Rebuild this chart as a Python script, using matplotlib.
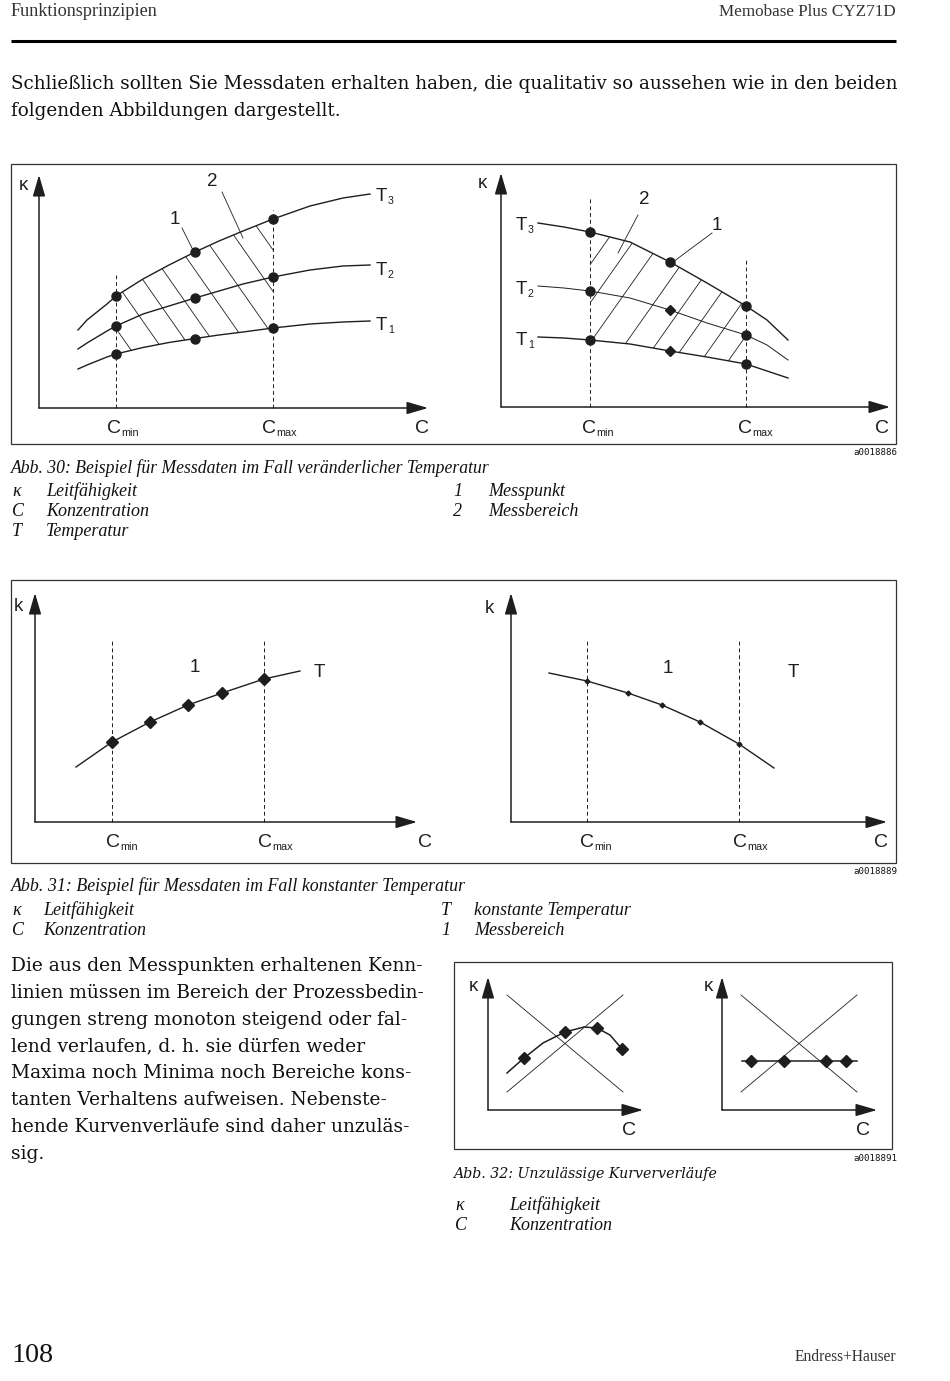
import numpy as np
import matplotlib
matplotlib.use("Agg")
import matplotlib.pyplot as plt
from matplotlib.patches import Rectangle, Polygon

W, H = 950, 1381
INK = "#1e1e1e"

# Abb. 30 links (steigend) - lokale Koordinaten: C nach rechts, kappa nach oben
c30a = [39, 48, 58, 68, 77, 104, 130, 156, 180, 204, 234, 271, 304, 331]
t3_30a = [78, 88, 96, 104, 112, 129, 143, 156, 167, 177, 189, 202, 210, 214]
t2_30a = [59, 65, 71, 77, 82, 94, 102, 110, 117, 124, 131, 138, 142, 143]
t1_30a = [39, 43, 47, 51, 54, 60.5, 65.5, 69.5, 73, 76, 80, 84, 86, 87]
mess_30a = [4, 7, 10]
cmin_30a, cmax_30a = 77, 234
schraff_30a = [85, 117, 146, 173, 205, 237, 268, 297]

# Abb. 30 rechts (fallend)
c30b = [37, 63, 89, 129, 169, 206, 245, 266, 287]
t3_30b = [184, 180, 175, 165, 145, 124, 101, 87, 67]
t2_30b = [121, 119, 116, 109, 97, 84, 72, 62, 47]
t1_30b = [70, 69, 67, 63, 56, 50, 43, 36, 29]
mess_30b = [2, 4, 6]
cmin_30b, cmax_30b = 89, 245
schraff_30b = [36, 63, 91, 127, 158, 187, 215, 242]

# Abb. 31
c31a = [41, 77, 115, 153, 187, 229, 265]
k31a = [55, 80, 100, 117, 129, 143, 151]
c31b = [38, 76, 117, 151, 189, 228, 263]
k31b = [149, 141, 129, 117, 100, 78, 54]
cmin_31a, cmax_31a = 77, 229
cmin_31b, cmax_31b = 76, 228

# Abb. 32
c32a = [19, 36, 55, 77, 96, 109, 122, 134]
k32a = [37, 52, 67, 78, 83, 82, 75, 61]
mess_32a = [1, 3, 5, 7]
c32b = [20, 29, 62, 104, 124, 135]
k32b = [49, 49, 49, 49, 49, 49]
mess_32b = [1, 2, 3, 4]
kreuz = [[19, 135], [115, 18], [19, 135], [18, 115]]

fig = plt.figure(figsize=(W / 100, H / 100), dpi=100)
page = fig.add_axes([0, 0, 1, 1])
page.set_xlim(0, W)
page.set_ylim(H, 0)
page.axis("off")
renderer = fig.canvas.get_renderer()


def fit(t, width):
    w = t.get_window_extent(renderer).width
    t.set_fontsize(t.get_fontsize() * width / w)
    return t.get_fontsize()


def put(x, y, s, size=12, family="DejaVu Serif", style="normal", ha="left", width=None, color="#111"):
    t = page.text(x, y, s, fontsize=size, family=family, style=style, ha=ha, va="baseline", color=color)
    if width:
        fit(t, width)
    return t.get_fontsize()


def panel(x0, y0, box):
    l, t, r, b = box
    ax = fig.add_axes([l / W, 1 - b / H, (r - l) / W, (b - t) / H])
    ax.set_xlim(l - x0, r - x0)
    ax.set_ylim(y0 - b, y0 - t)
    ax.axis("off")
    return ax


def achsen(ax, xs, ys):
    kw = dict(arrowstyle="-|>,head_length=1.3,head_width=0.38", color=INK, lw=1.1,
              shrinkA=0, shrinkB=0, mutation_scale=10)
    ax.annotate("", xy=(xs, 0), xytext=(0, 0), arrowprops=kw)
    ax.annotate("", xy=(0, ys), xytext=(0, 0), arrowprops=kw)


def grenze(ax, c, h):
    ax.plot([c, c], [0, h], color=INK, lw=0.7, ls=(0, (4, 3)))


def schraffur(ax, c, oben, unten, cmin, cmax, starts, slope, yref):
    c = np.array(c)
    sel = (c >= cmin) & (c <= cmax)
    pts = np.vstack([np.column_stack([c[sel], np.array(oben)[sel]]),
                     np.column_stack([c[sel], np.array(unten)[sel]])[::-1]])
    clip = Polygon(pts, closed=True, transform=ax.transData)
    for x in starts:
        xx = np.array([x - 150, x + 150])
        ln, = ax.plot(xx, yref + slope * (xx - x), color=INK, lw=0.6)
        ln.set_clip_path(clip)


def label(x, y, s, size=13.5, ha="center"):
    return page.text(x, y, s, fontsize=size, family="Liberation Sans", ha=ha, va="baseline", color=INK)


def sub(x, y, s, tief, size=14):
    # Buchstabe mit kleinem Index, wie C_min oder T_3
    t = label(x, y, s, size, ha="left")
    w = t.get_window_extent(renderer).width
    label(x + w + 0.5, y + 3, tief, size * 0.56, ha="left")


# ---------------- Kopf ----------------
put(11, 16, "Funktionsprinzipien", family="Liberation Serif", width=147, color="#333")
put(896, 16, "Memobase Plus CYZ71D", family="Liberation Serif", ha="right", width=177, color="#333")
page.plot([11, 896], [40.8, 40.8], color="#000", lw=2.2, solid_capstyle="butt")

s = put(11, 89, "Schließlich sollten Sie Messdaten erhalten haben, die qualitativ so aussehen wie in den beiden", width=879)
put(11, 116, "folgenden Abbildungen dargestellt.", size=s)

# ---------------- Abb. 30 ----------------
page.add_patch(Rectangle((11, 164), 885, 280, fill=False, lw=0.9, ec="#333"))
ax = panel(39, 408, (12, 165, 450, 443))
achsen(ax, 389, 233)
grenze(ax, cmin_30a, 133)
grenze(ax, cmax_30a, 198)
schraffur(ax, c30a, t3_30a, t1_30a, cmin_30a, cmax_30a, schraff_30a, -1.43, 68)
for t in (t3_30a, t2_30a, t1_30a):
    ax.plot(c30a, t, color=INK, lw=1.0)
    ax.plot(np.array(c30a)[mess_30a], np.array(t)[mess_30a], "o", ms=6.5, color=INK)
ax.plot([143, 154], [180, 158], color=INK, lw=0.6)
ax.plot([183, 204], [216, 170], color=INK, lw=0.6)
label(23, 190, "κ", 13.5)
label(175, 224, "1")
label(212, 186, "2")
sub(376, 201, "T", "3", 13.5)
sub(376, 275, "T", "2", 13.5)
sub(376, 330, "T", "1", 13.5)
sub(107, 433, "C", "min")
sub(262, 433, "C", "max")
label(415, 433, "C", 14, ha="left")

ax = panel(501, 407, (455, 165, 895, 443))
achsen(ax, 389, 234)
grenze(ax, cmin_30b, 210)
grenze(ax, cmax_30b, 147)
schraffur(ax, c30b, t3_30b, t1_30b, cmin_30b, cmax_30b, schraff_30b, 1.42, 67)
ax.plot(c30b, t3_30b, color=INK, lw=1.0)
ax.plot(c30b, t2_30b, color=INK, lw=0.7)
ax.plot(c30b, t1_30b, color=INK, lw=1.0)
ax.plot(np.array(c30b)[mess_30b], np.array(t3_30b)[mess_30b], "o", ms=6.5, color=INK)
for t in (t2_30b, t1_30b):
    ax.plot(np.array(c30b)[[mess_30b[0], mess_30b[2]]], np.array(t)[[mess_30b[0], mess_30b[2]]], "o", ms=6.5, color=INK)
    ax.plot(c30b[mess_30b[1]], t[mess_30b[1]], "D", ms=5, color=INK)
ax.plot([211, 172], [174, 145], color=INK, lw=0.6)
ax.plot([137, 117], [192, 154], color=INK, lw=0.6)
label(482, 188, "κ", 13.5)
label(717, 230, "1")
label(644, 204, "2")
sub(516, 230, "T", "3", 13.5)
sub(516, 294, "T", "2", 13.5)
sub(516, 345, "T", "1", 13.5)
sub(582, 433, "C", "min")
sub(738, 433, "C", "max")
label(875, 433, "C", 14, ha="left")

put(897, 455, "a0018886", family="DejaVu Sans Mono", ha="right", width=44)
s = put(11, 473, "Abb. 30: Beispiel für Messdaten im Fall veränderlicher Temperatur",
        family="Liberation Serif", style="italic", width=479)
ls = put(46, 496, "Leitfähigkeit", family="Liberation Serif", style="italic", width=91)
for x, y, txt in [(46, 516, "Konzentration"), (46, 536, "Temperatur"),
                  (488, 496, "Messpunkt"), (488, 516, "Messbereich")]:
    put(x, y, txt, size=ls, family="Liberation Serif", style="italic")
for x, y, txt in [(12, 496, "κ"), (12, 516, "C"), (12, 536, "T"), (453, 496, "1"), (453, 516, "2")]:
    put(x, y, txt, size=ls, family="Liberation Serif", style="italic")

# ---------------- Abb. 31 ----------------
page.add_patch(Rectangle((11, 580), 885, 283, fill=False, lw=0.9, ec="#333"))
ax = panel(35, 822, (12, 581, 450, 862))
achsen(ax, 382, 229)
grenze(ax, cmin_31a, 182)
grenze(ax, cmax_31a, 182)
ax.plot(c31a, k31a, color=INK, lw=1.0)
ax.plot(c31a[1:6], k31a[1:6], "D", ms=6, color=INK)
label(18, 611, "k", 13.5)
label(195, 672, "1")
label(319, 677, "T")
sub(106, 847, "C", "min")
sub(258, 847, "C", "max")
label(418, 847, "C", 14, ha="left")

ax = panel(511, 822, (455, 581, 895, 862))
achsen(ax, 376, 229)
grenze(ax, cmin_31b, 182)
grenze(ax, cmax_31b, 182)
ax.plot(c31b, k31b, color=INK, lw=1.0)
ax.plot(c31b[1:6], k31b[1:6], "D", ms=2.5, color=INK)
label(489, 613, "k", 13.5)
label(668, 673, "1")
label(793, 677, "T")
sub(580, 847, "C", "min")
sub(733, 847, "C", "max")
label(874, 847, "C", 14, ha="left")

put(897, 874, "a0018889", family="DejaVu Sans Mono", ha="right", width=44)
put(11, 891, "Abb. 31: Beispiel für Messdaten im Fall konstanter Temperatur",
    family="Liberation Serif", style="italic", width=454)
for x, y, txt in [(43, 915, "Leitfähigkeit"), (43, 935, "Konzentration"),
                  (474, 915, "konstante Temperatur"), (474, 935, "Messbereich"),
                  (12, 915, "κ"), (12, 935, "C"), (441, 915, "T"), (441, 935, "1")]:
    put(x, y, txt, size=ls, family="Liberation Serif", style="italic")

# ---------------- Fliesstext links ----------------
zeilen = ["Die aus den Messpunkten erhaltenen Kenn-",
          "linien müssen im Bereich der Prozessbedin-",
          "gungen streng monoton steigend oder fal-",
          "lend verlaufen, d. h. sie dürfen weder",
          "Maxima noch Minima noch Bereiche kons-",
          "tanten Verhaltens aufweisen. Nebenste-",
          "hende Kurvenverläufe sind daher unzuläs-",
          "sig."]
s = put(11, 971, zeilen[0], width=412)
for i, z in enumerate(zeilen[1:], start=1):
    put(11, 971 + 26.86 * i, z, size=s)

# ---------------- Abb. 32 ----------------
page.add_patch(Rectangle((454, 962), 438, 187, fill=False, lw=0.9, ec="#333"))
for x0, c, k, mess, kx in [(488, c32a, k32a, mess_32a, 473), (722, c32b, k32b, mess_32b, 708)]:
    ax = panel(x0, 1110, (x0 - 33, 963, x0 + 170, 1148))
    achsen(ax, 155, 133)
    ax.plot(kreuz[0], kreuz[1], color=INK, lw=0.6)
    ax.plot(kreuz[2], kreuz[3], color=INK, lw=0.6)
    ax.plot(c, k, color=INK, lw=1.1)
    ax.plot(np.array(c)[mess], np.array(k)[mess], "D", ms=6, color=INK)
    label(kx, 991, "κ", 13.5)
    label(x0 + 134, 1135, "C", 14, ha="left")

put(897, 1161, "a0018891", family="DejaVu Sans Mono", ha="right", width=44)
put(453, 1178, "Abb. 32: Unzulässige Kurververläufe", family="DejaVu Serif", style="italic", width=263)
for x, y, txt in [(509, 1210, "Leitfähigkeit"), (509, 1230, "Konzentration"),
                  (455, 1210, "κ"), (455, 1230, "C")]:
    put(x, y, txt, size=ls, family="Liberation Serif", style="italic")

# ---------------- Fuss ----------------
put(11, 1362, "108", family="Liberation Serif", width=42)
put(896, 1361, "Endress+Hauser", family="Liberation Serif", ha="right", width=102, color="#333")

fig.savefig("out.png", dpi=100)
